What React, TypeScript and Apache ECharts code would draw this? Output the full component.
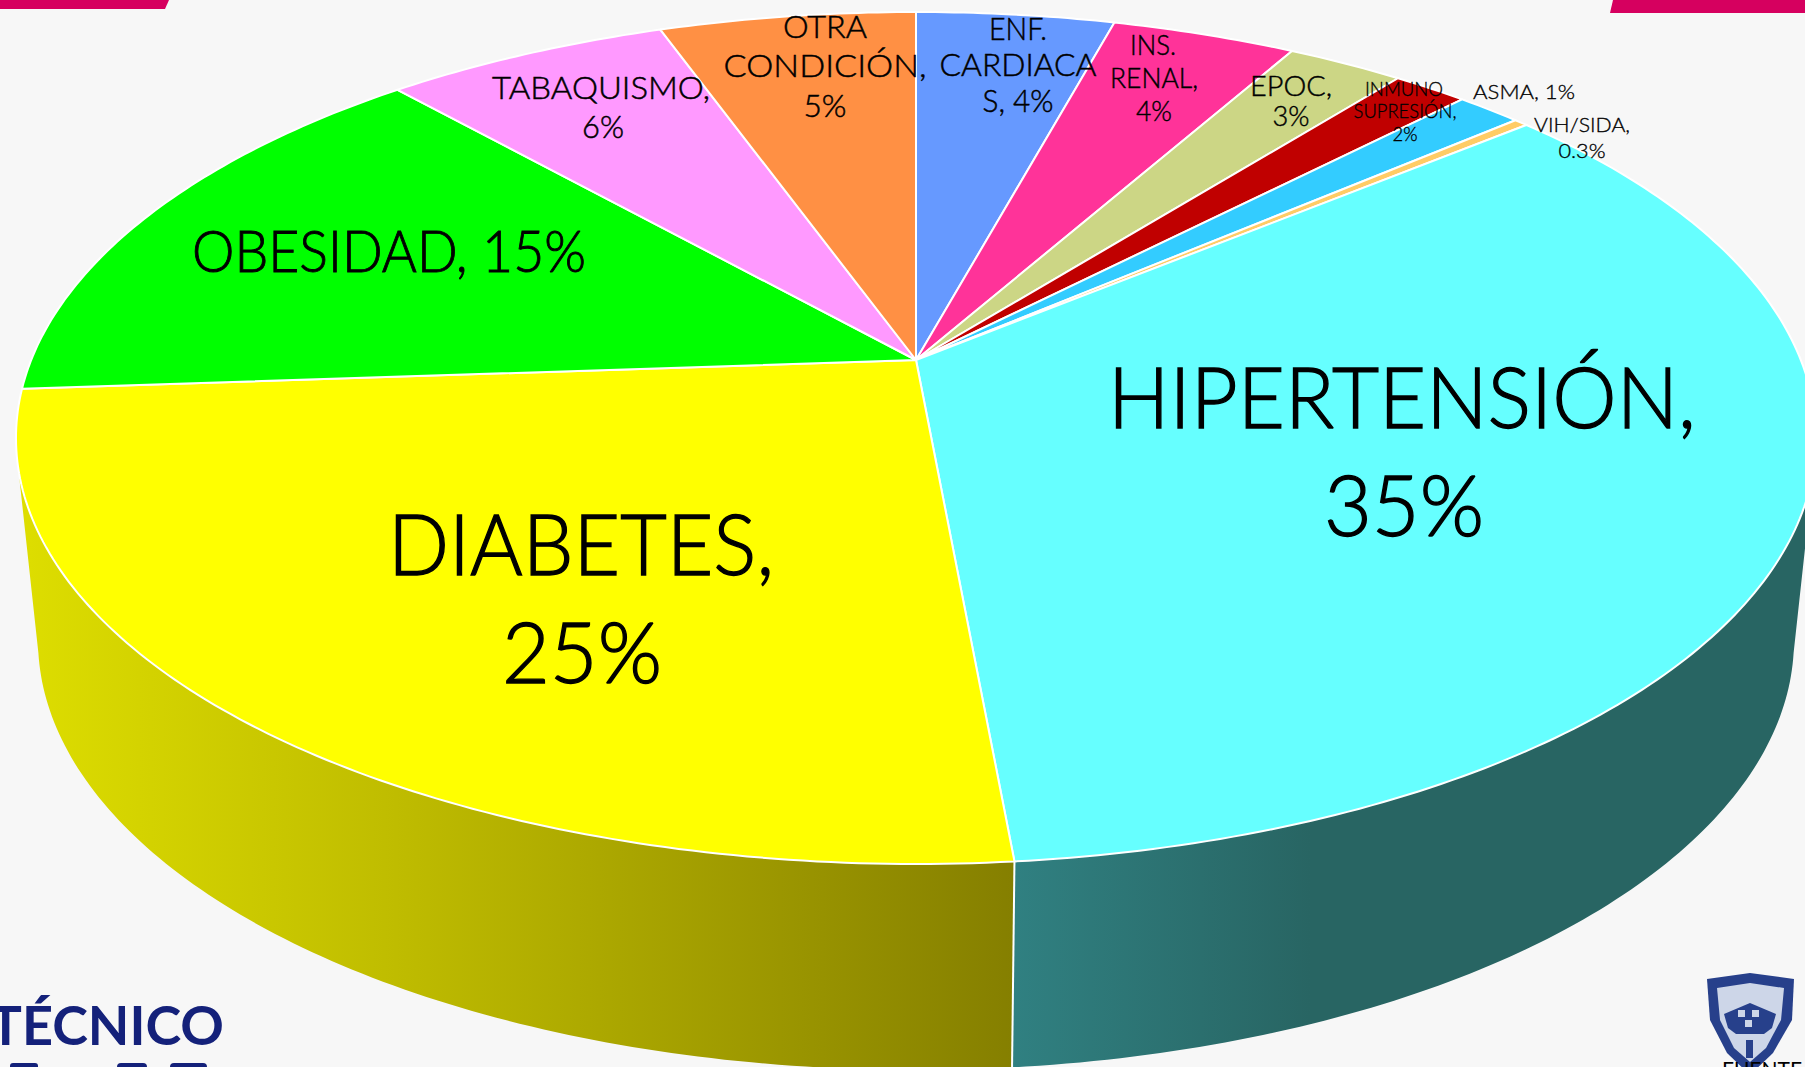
import React, { useEffect, useRef } from "react";
import * as echarts from "echarts";

// ---- data ----
const categories = ["ENF. CARDIACAS", "INS. RENAL", "EPOC", "INMUNO SUPRESIÓN", "ASMA", "VIH/SIDA", "HIPERTENSIÓN", "DIABETES", "OBESIDAD", "TABAQUISMO", "OTRA CONDICIÓN"];
const sliceValues = [4.25, 3.95, 2.5, 1.6, 1.4, 0.3, 34.55, 25.35, 14.5, 6.1, 5.5];
const sliceColors = ["#6699ff", "#ff3399", "#ccd685", "#c00000", "#33ccff", "#ffcc66", "#66ffff", "#ffff00", "#00ff00", "#ff99ff", "#ff9044"];
const labelLines = [
  ["ENF.", "CARDIACA", "S, 4%"],
  ["INS.", "RENAL,", "4%"],
  ["EPOC,", "3%"],
  ["INMUNO", "SUPRESIÓN,", "2%"],
  ["ASMA, 1%"],
  ["VIH/SIDA,", "0.3%"],
  ["HIPERTENSIÓN,", "35%"],
  ["DIABETES,", "25%"],
  ["OBESIDAD, 15%"],
  ["TABAQUISMO,", "6%"],
  ["OTRA", "CONDICIÓN,", "5%"],
];

// ---- layout of the labels: [centre x, centre y, font size, target width] per line ----
const labelLayout: number[][][] = [
  [[1018, 28, 31, 58], [1018, 64, 31, 157], [1018, 100, 31, 71]],
  [[1153, 45, 27, 46], [1154, 78, 27, 88], [1154, 111, 27, 36]],
  [[1291, 85, 27, 82], [1291, 116, 27, 37]],
  [[1404, 88, 20, 78], [1405, 110, 20, 103], [1405, 133, 20, 25]],
  [[1524, 91, 20, 102]],
  [[1582, 124, 20, 96], [1582, 150, 20, 47]],
  [[1402, 395, 85, 588], [1404, 503, 85, 160]],
  [[581, 542, 85, 386], [582, 650, 85, 160]],
  [[389, 250, 57, 394]],
  [[601, 87, 32, 218], [603, 126, 32, 42]],
  [[825, 26, 31, 84], [825, 65, 31, 203], [825, 105, 31, 43]],
];

// ---- projection of the disc ----
const PIE_X = 916, PIE_Y = 360, PROJ_A = 884.8, PROJ_B = 411.7, PROJ_K = 0.1831;
const TOP_CY = 438, TOP_A = 900, TOP_B = 426;
const BOT_CY = 640, BOT_A = 878, BOT_B = 430;
const WALL_FROM = 102.26, WALL_TO = 257.74;

const cum: number[] = [];
sliceValues.reduce((s, v, i) => ((cum[i] = s), s + v), 0);
const total = sliceValues.reduce((s, v) => s + v, 0);
const seriesData = sliceValues.map((v, i) => [v, cum[i], i]);

function rim(deg: number): number[] {
  const t = (deg * Math.PI) / 180;
  const u = Math.sin(t), v = -Math.cos(t), w = 1 - PROJ_K * v;
  return [PIE_X + (PROJ_A * u) / w, PIE_Y + (PROJ_B * v) / w];
}
function rimBottom(deg: number): number[] {
  const [x, y] = rim(deg);
  return [PIE_X + (BOT_A * (x - PIE_X)) / TOP_A, BOT_CY + (BOT_B * (y - TOP_CY)) / TOP_B];
}
function arc(from: number, to: number, f: (d: number) => number[]): number[][] {
  const n = Math.max(2, Math.ceil((to - from) / 0.75));
  const pts: number[][] = [];
  for (let i = 0; i <= n; i++) pts.push(f(from + ((to - from) * i) / n));
  return pts;
}

const yellowWall = {
  type: "linear", global: true, x: 17, y: 0, x2: 1015, y2: 0,
  colorStops: [{ offset: 0, color: "#dede00" }, { offset: 0.38, color: "#bfbc00" }, { offset: 1, color: "#857f00" }],
};
const tealWall = {
  type: "linear", global: true, x: 1015, y: 0, x2: 1310, y2: 0,
  colorStops: [{ offset: 0, color: "#308081" }, { offset: 1, color: "#286563" }],
};

const measureCtx = document.createElement("canvas").getContext("2d")!;
const FONT = "Lato";
const WEIGHT = 300;
function fit(text: string, size: number, target: number): number {
  measureCtx.font = `${WEIGHT} ${size}px ${FONT}`;
  return target / measureCtx.measureText(text).width;
}

function renderWall(_: any, api: any) {
  const a = (api.value(1) / total) * 360;
  const b = ((api.value(1) + api.value(0)) / total) * 360;
  const from = Math.max(a, WALL_FROM), to = Math.min(b, WALL_TO);
  if (from >= to) return null;
  const top = arc(from, to, rim);
  const bot = arc(from, to, rimBottom).reverse();
  const children: any[] = [{
    type: "polygon",
    shape: { points: top.concat(bot) },
    style: { fill: to > 180 ? yellowWall : tealWall },
  }];
  if (from === a) {
    const p = rim(from), q = rimBottom(from);
    children.push({
      type: "line", z2: 5,
      shape: { x1: p[0], y1: p[1], x2: q[0], y2: q[1] },
      style: { stroke: "#ffffff", lineWidth: 2 },
    });
  }
  return { type: "group", children };
}
function renderTop(_: any, api: any) {
  const i = api.value(2);
  const a = (api.value(1) / total) * 360;
  const b = ((api.value(1) + api.value(0)) / total) * 360;
  return {
    type: "polygon",
    shape: { points: [[PIE_X, PIE_Y]].concat(arc(a, b, rim)) },
    style: { fill: sliceColors[i], stroke: "#ffffff", lineWidth: 2, lineJoin: "round" },
  };
}
function renderLabel(_: any, api: any) {
  const i = api.value(2);
  return {
    type: "group",
    children: labelLines[i].map((line, k) => {
      const [x, y, size, width] = labelLayout[i][k];
      return {
        type: "text", x, y, scaleX: fit(line, size, width),
        style: {
          text: line, fontFamily: FONT, fontWeight: WEIGHT, fontSize: size, fill: "#000000",
          stroke: "#000000", lineWidth: size * 0.016,
          align: "center", verticalAlign: "middle",
        },
      };
    }),
  };
}

const NAVY = "#14217a", SHIELD = "#27408b", SHIELD_LIGHT = "#cdd6e8";

export default function App() {
  const ref = useRef<HTMLDivElement>(null);
  useEffect(() => {
    document.body.style.margin = "0";
    const chart = echarts.init(ref.current!, undefined, { renderer: "svg" });
    chart.setOption({
      animation: false,
      backgroundColor: "#f7f7f7",
      graphic: { elements: [
        { type: "polygon", z: 0, shape: { points: [[0, 0], [169, 0], [165, 9], [0, 9]] }, style: { fill: "#d6005f" } },
        { type: "polygon", z: 0, shape: { points: [[1613, 0], [1805, 0], [1805, 13], [1610, 13]] }, style: { fill: "#d6005f" } },
        { type: "text", z: 0, x: 224, y: 1051, style: { text: "TÉCNICO", fontFamily: "Lato", fontWeight: "bold", fontSize: 54, fill: NAVY, align: "right", verticalAlign: "bottom" } },
        { type: "rect", z: 0, shape: { x: 10, y: 1063, width: 28, height: 8, r: 3 }, style: { fill: NAVY } },
        { type: "rect", z: 0, shape: { x: 117, y: 1063, width: 30, height: 8, r: 4 }, style: { fill: NAVY } },
        { type: "rect", z: 0, shape: { x: 170, y: 1063, width: 37, height: 8, r: 4 }, style: { fill: NAVY } },
        { type: "polygon", z: 0, shape: { points: [[1707, 979], [1750, 973], [1794, 979], [1792, 1020], [1773, 1053], [1750, 1075], [1727, 1053], [1710, 1020]] }, style: { fill: SHIELD } },
        { type: "polygon", z: 0, shape: { points: [[1717, 988], [1750, 983], [1784, 988], [1781, 1020], [1766, 1048], [1750, 1062], [1734, 1048], [1720, 1020]] }, style: { fill: SHIELD_LIGHT } },
        { type: "polygon", z: 0, shape: { points: [[1724, 1014], [1750, 1003], [1776, 1014], [1772, 1028], [1764, 1034], [1736, 1034], [1728, 1028]] }, style: { fill: SHIELD } },
        { type: "rect", z: 0, shape: { x: 1738, y: 1010, width: 7, height: 7 }, style: { fill: SHIELD_LIGHT } },
        { type: "rect", z: 0, shape: { x: 1752, y: 1010, width: 7, height: 7 }, style: { fill: SHIELD_LIGHT } },
        { type: "rect", z: 0, shape: { x: 1745, y: 1020, width: 7, height: 7 }, style: { fill: SHIELD_LIGHT } },
        { type: "rect", z: 0, shape: { x: 1746, y: 1040, width: 7, height: 18 }, style: { fill: SHIELD } },
        { type: "text", z: 1, x: 1722, y: 1068, style: { text: "FUENTE", fontFamily: "Lato", fontSize: 21, fill: "#000000", align: "left", verticalAlign: "middle" } },
      ] },
      series: [
        { type: "custom", coordinateSystem: "none", z: 2, silent: true, name: "wall", data: seriesData, renderItem: renderWall },
        { type: "custom", coordinateSystem: "none", z: 3, silent: true, name: "top", data: seriesData.map((d, i) => ({ name: categories[i], value: d })), renderItem: renderTop },
        { type: "custom", coordinateSystem: "none", z: 4, silent: true, name: "labels", data: seriesData, renderItem: renderLabel },
      ],
    });
    return () => chart.dispose();
  }, []);
  return <div ref={ref} style={{ width: 1805, height: 1067 }} />;
}
